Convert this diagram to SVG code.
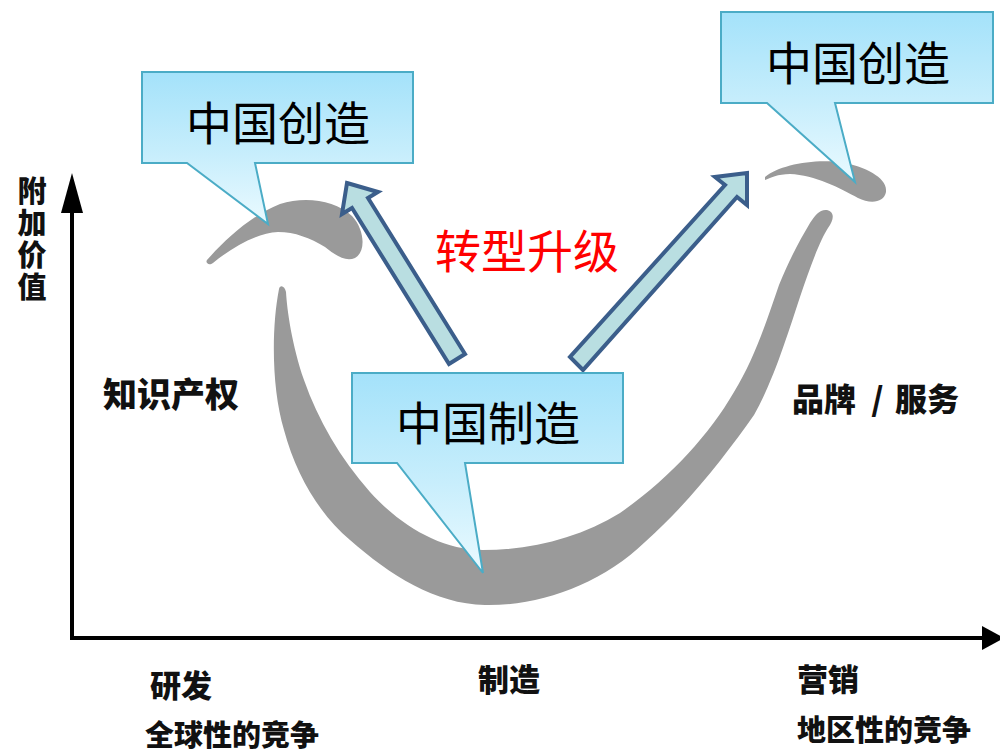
<svg xmlns="http://www.w3.org/2000/svg" width="1000" height="753" viewBox="0 0 1000 753">
  <defs>
    <linearGradient id="calloutFill" x1="0" y1="0" x2="0" y2="1">
      <stop offset="0" stop-color="#a4e2fa"/>
      <stop offset="0.55" stop-color="#c8eefc"/>
      <stop offset="1" stop-color="#eafaff"/>
    </linearGradient>
    <style>
      .callout { fill: url(#calloutFill); stroke: #4bacc6; stroke-width: 2; stroke-linejoin: miter; }
      .ctext { font-family: "Noto Sans CJK SC", "Noto Sans", sans-serif; font-size: 46px; fill: #000; text-anchor: middle; }
      .red { font-family: "Noto Sans CJK SC", "Noto Sans", sans-serif; font-size: 46px; fill: #ff0000; text-anchor: middle; }
      .lbl { font-family: "Noto Sans CJK SC", "Noto Sans", sans-serif; font-weight: 900; fill: #111; }
      .curve { fill: #9a9a9a; }
      .block { fill: #b9dee1; stroke: #3b5e8b; stroke-width: 4; stroke-linejoin: miter; }
      .axis { stroke: #000; stroke-width: 4; fill: none; }
      .axhead { fill: #000; }
    </style>
  </defs>
  <rect x="0" y="0" width="1000" height="753" fill="#ffffff"/>

  <!-- smile curve -->
  <g id="smile-curve">
    <path class="curve" d="M 207,260 C 225,240 250,216 280,204 C 305,196 335,200 352,216 C 365,230 366,252 355,258 C 345,262 335,255 325,247 C 310,238 295,232 278,232 C 258,233 235,245 213,263 C 209,266 205,263 207,260 Z"/>
    <path class="curve" d="M 279,289 C 271,330 272,390 284,430 C 296,475 320,515 350,540 C 390,575 435,604 485,605 C 540,606 600,585 645,542 C 690,502 728,452 754,415 C 774,380 789,330 800,297 C 809,270 820,240 828,228 C 834,220 835,212 827,210 C 820,209 815,215 810,223 C 800,240 790,258 779,285 C 767,320 754,360 734,392 C 709,435 670,478 620,513 C 580,538 530,550 483,550 C 440,550 400,525 370,492 C 340,458 318,420 304,380 C 292,345 287,310 286,292 C 285,286 280,284 279,289 Z"/>
    <path class="curve" d="M 765,177 C 780,165 815,158 845,163 C 870,168 888,180 886,192 C 884,203 870,204 858,198 C 840,188 815,175 790,174 C 778,174 770,178 765,180 Z"/>
  </g>

  <!-- connectors: axes and upgrade arrows -->
  <g id="connectors">
    <line class="axis" x1="72" y1="640" x2="72" y2="205"/>
    <polygon class="axhead" points="72,173 61,213 83,213"/>
    <line class="axis" x1="70" y1="638" x2="985" y2="638"/>
    <polygon class="axhead" points="1004,638 982,626 982,650"/>
    <polygon id="arrow-left" class="block" points="347,183 378,192 368,198 465,354 449,364 352,208 342,214"/>
    <polygon id="arrow-right" class="block" points="747,173 747,205 737,197 583,370 570,357 725,185 715,177"/>
  </g>

  <!-- callouts -->
  <g id="callout-left">
    <path class="callout" d="M 142,72 H 413 V 163 H 255 L 268,224 L 187,163 H 142 Z"/>
    <text class="ctext" x="278" y="140">中国创造</text>
  </g>
  <g id="callout-right">
    <path class="callout" d="M 721,12 H 993 V 103 H 835 L 855,182 L 767,103 H 721 Z"/>
    <text class="ctext" x="858" y="80">中国创造</text>
  </g>
  <g id="callout-center">
    <path class="callout" d="M 352,373 H 623 V 463 H 465 L 483,573 L 397,463 H 352 Z"/>
    <text class="ctext" x="488" y="440">中国制造</text>
  </g>

  <g id="upgrade-label">
    <text class="red" x="527" y="268">转型升级</text>
  </g>

  <!-- axis labels -->
  <g id="y-axis-label">
    <text class="lbl" font-size="29" x="32" y="176" writing-mode="vertical-rl" letter-spacing="3">附加价值</text>
  </g>
  <g id="label-ip">
    <text class="lbl" font-size="34" x="103" y="407">知识产权</text>
  </g>
  <g id="label-brand">
    <text class="lbl" font-size="32" y="411"><tspan x="792">品牌</tspan><tspan x="864"> / </tspan><tspan x="895">服务</tspan></text>
  </g>
  <g id="label-rd">
    <text class="lbl" font-size="31" x="150" y="697">研发</text>
    <text class="lbl" font-size="29" x="145" y="746">全球性的竞争</text>
  </g>
  <g id="label-mfg">
    <text class="lbl" font-size="31" x="478" y="691">制造</text>
  </g>
  <g id="label-mkt">
    <text class="lbl" font-size="31" x="797" y="691">营销</text>
    <text class="lbl" font-size="29" x="797" y="741">地区性的竞争</text>
  </g>
</svg>
